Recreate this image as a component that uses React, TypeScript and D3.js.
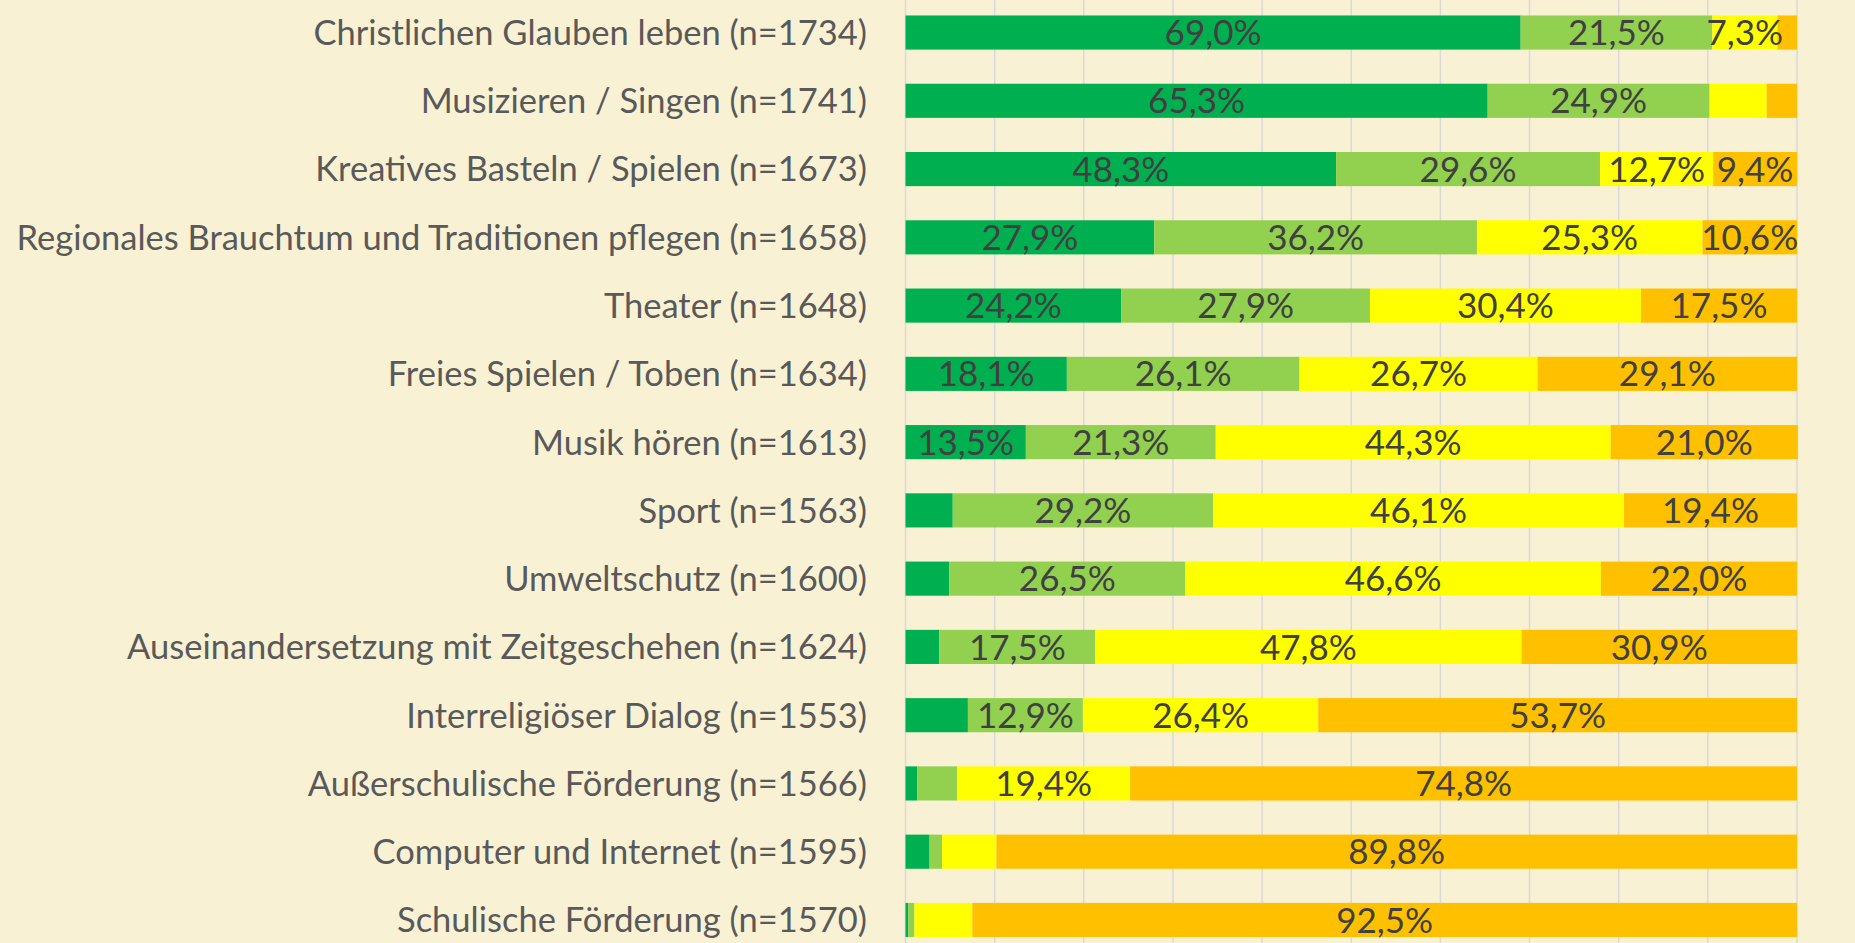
import React from 'react';
import * as d3 from 'd3';

const categories = [
  'Christlichen Glauben leben (n=1734)',
  'Musizieren / Singen (n=1741)',
  'Kreatives Basteln / Spielen (n=1673)',
  'Regionales Brauchtum und Traditionen pflegen (n=1658)',
  'Theater (n=1648)',
  'Freies Spielen / Toben (n=1634)',
  'Musik hören (n=1613)',
  'Sport (n=1563)',
  'Umweltschutz (n=1600)',
  'Auseinandersetzung mit Zeitgeschehen (n=1624)',
  'Interreligiöser Dialog (n=1553)',
  'Außerschulische Förderung (n=1566)',
  'Computer und Internet (n=1595)',
  'Schulische Förderung (n=1570)',
];

// four answer levels, from strongest to weakest
const sehrWichtig = [69.0, 65.3, 48.3, 27.9, 24.2, 18.1, 13.5, 5.3, 4.9, 3.8, 7.0, 1.3, 2.7, 0.3];
const eherWichtig = [21.5, 24.9, 29.6, 36.2, 27.9, 26.1, 21.3, 29.2, 26.5, 17.5, 12.9, 4.5, 1.4, 0.7];
const wenigWichtig = [7.3, 6.4, 12.7, 25.3, 30.4, 26.7, 44.3, 46.1, 46.6, 47.8, 26.4, 19.4, 6.1, 6.5];
const unwichtig = [2.2, 3.4, 9.4, 10.6, 17.5, 29.1, 21.0, 19.4, 22.0, 30.9, 53.7, 74.8, 89.8, 92.5];

const series = [sehrWichtig, eherWichtig, wenigWichtig, unwichtig];
const colors = ['#00B050', '#92D050', '#FFFF00', '#FFC000'];
const xTicks = [0, 10, 20, 30, 40, 50, 60, 70, 80, 90, 100];

const W = 1855;
const H = 943;

export default function App() {
  const x = d3.scaleLinear().domain([0, 100]).range([905.5, 1797]);
  const y = d3.scaleBand<string>().domain(categories).range([-1.6, 954.1]).paddingInner(0.5).paddingOuter(0.25);

  const rows = categories.map((c, i) => {
    let acc = 0;
    return series.map((s, k) => {
      const v = s[i];
      const seg = { k, v, x0: acc, x1: acc + v };
      acc += v;
      return seg;
    });
  });

  const fmt = (v: number) => v.toFixed(1).replace('.', ',') + '%';

  return (
    <svg width={W} height={H} style={{ position: 'absolute', left: 0, top: 0, background: '#F9F1D4' }}>
      <rect width={W} height={H} fill="#F9F1D4" />
      {xTicks.map((t) => (
        <line key={t} x1={x(t)} x2={x(t)} y1={0} y2={H} stroke="#D9D9D9" strokeWidth={1.5} />
      ))}
      {categories.map((c, i) => (
        <g key={c}>
          {rows[i].map((s) => (
            <rect
              key={s.k}
              x={x(s.x0)}
              y={y(c)}
              width={x(s.x1) - x(s.x0)}
              height={y.bandwidth()}
              fill={colors[s.k]}
            />
          ))}
          {rows[i].map((s) =>
            s.v > 7.1 ? (
              <text
                key={'l' + s.k}
                x={(x(s.x0) + x(s.x1)) / 2}
                y={(y(c) as number) + y.bandwidth() / 2}
                dy="0.36em"
                textAnchor="middle"
                fontFamily="Lato, 'Open Sans', sans-serif"
                fontSize={35}
                fill="#404040"
              >
                {fmt(s.v)}
              </text>
            ) : null
          )}
          <text
            x={867}
            y={(y(c) as number) + y.bandwidth() / 2}
            dy="0.36em"
            textAnchor="end"
            fontFamily="Lato, 'Open Sans', sans-serif"
            fontSize={34.5}
            fill="#595959"
          >
            {c}
          </text>
        </g>
      ))}
    </svg>
  );
}
